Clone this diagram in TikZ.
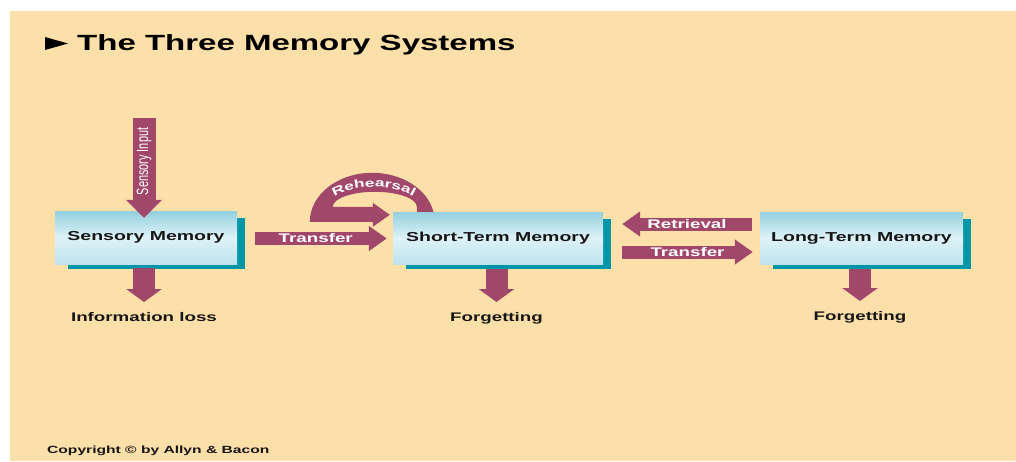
\documentclass[tikz,border=0pt]{standalone}
\usepackage{graphicx}
\usepackage{fontspec}
\setmainfont{Liberation Sans}[FakeStretch=1.5]
\newfontfamily\uprightsans{Liberation Sans}
\usetikzlibrary{arrows.meta,backgrounds,calc,decorations.text}

\definecolor{paper}{RGB}{253,223,170}
\definecolor{plum}{RGB}{161,72,106}
\definecolor{tealshadow}{RGB}{0,150,168}
\definecolor{boxtop}{RGB}{148,208,222}
\definecolor{boxmid}{RGB}{222,242,247}
\definecolor{boxbot}{RGB}{190,227,236}
\definecolor{ink}{RGB}{22,22,22}

\begin{document}
\begin{tikzpicture}[x=1pt,y=1pt,
  memorybox/.style={rectangle, inner sep=0pt, minimum height=52pt,
    top color=boxtop, bottom color=boxbot, middle color=boxmid,
    text=ink, font=\bfseries\fontsize{13}{15}\selectfont},
  outcome/.style={inner sep=0pt, text=ink, font=\bfseries\fontsize{12.5}{14}\selectfont},
  flowarrow/.style={draw=plum, line width=13pt, -{Triangle[width=24pt,length=18pt]}},
  droparrow/.style={draw=plum, line width=22pt, -{Triangle[width=35pt,length=13pt]}},
  inputarrow/.style={draw=plum, line width=23pt, -{Triangle[width=35pt,length=18pt]}},
  flowlabel/.style={text=white, inner sep=0pt, font=\bfseries\fontsize{12.5}{14}\selectfont},
]
\useasboundingbox (0,0) rectangle (1016,-461);

% heading
\fill[black] (45,-37) -- (45,-50) -- (68,-43.5) -- cycle;
\node[anchor=base west, inner sep=0pt, text=black,
      font=\bfseries\fontsize{22}{26}\selectfont] (title) at (77,-50) {The Three Memory Systems};

% the three stores
\node[memorybox, minimum width=182pt, minimum height=53pt] (sm) at (146,-237.5) {Sensory Memory};
\node[memorybox, minimum width=210pt] (stm) at (498,-238) {Short-Term Memory};
\node[memorybox, minimum width=203pt] (ltm) at (861.5,-238) {Long-Term Memory};

% paper and offset shadows
\begin{scope}[on background layer]
  \fill[white] (0,0) rectangle (1016,-461);
  \fill[paper] (10,-11) rectangle (1016,-461);
  \foreach \b in {sm,stm,ltm}
    \fill[tealshadow] ($(\b.north west)+(13.5,-7.5)$) rectangle ($(\b.south east)+(8,-4.5)$);
\end{scope}

% outcomes
\node[outcome] (loss) at (144,-317) {Information loss};
\node[outcome] (forget1) at (496.5,-318) {Forgetting};
\node[outcome] (forget2) at (860,-317) {Forgetting};

\draw[droparrow] ($(sm.south -| loss.center)+(0,-4)$) -- ($(loss.center)+(0,15)$);
\draw[droparrow] ($(stm.south -| forget1.center)+(0,-5)$) -- ($(forget1.center)+(0,16)$);
\draw[droparrow] ($(ltm.south -| forget2.center)+(0,-5)$) -- ($(forget2.center)+(0,16)$);

% sensory input
\coordinate (inputtop) at (144,-118);
\draw[inputarrow] (inputtop) -- node[pos=0.435, rotate=90, inner sep=0pt, text=white]
  {\uprightsans\fontsize{10.9}{12}\selectfont\scalebox{1}[1.5]{Sensory Input}}
  ($(sm.north -| inputtop)+(0,-7)$);

% transfers and retrieval
\draw[flowarrow] ($(sm.east)+(18,-1)$) -- node[flowlabel, pos=0.46] {Transfer} ($(stm.west)+(-6,-0.5)$);
\draw[flowarrow] ($(ltm.west)+(-8,14)$) -- node[flowlabel, pos=0.5] {Retrieval} ($(stm.east)+(19,14)$);
\draw[flowarrow] ($(stm.east)+(19,-14)$) -- node[flowlabel, pos=0.5] {Transfer} ($(ltm.west)+(-7,-14)$);

% rehearsal loop back into short-term memory
\begin{scope}[shift={(stm.north west)}]
  \fill[plum] (-83,-10) arc[start angle=180, end angle=11.8, x radius=62.5, y radius=49]
    -- (24,0) -- (24,5)
    arc[start angle=0, end angle=180, x radius=42, y radius=15]
    -- (-20,5) -- (-20,9) -- (-3,-3) -- (-20,-15) -- (-20,-10) -- cycle;
  \path[decorate, decoration={text along path, text align=center, text color=white,
      text={|\bfseries\fontsize{11.5}{13}\selectfont|Rehearsal}}]
    (-19,-4) ++(160:53 and 29) arc[start angle=160, end angle=20, x radius=53, y radius=29];
\end{scope}

% credit line
\node[anchor=base west, inner sep=0pt, text=ink,
      font=\bfseries\fontsize{10.4}{12}\selectfont] (credit) at (47,-453) {Copyright © by Allyn \& Bacon};
\end{tikzpicture}
\end{document}
